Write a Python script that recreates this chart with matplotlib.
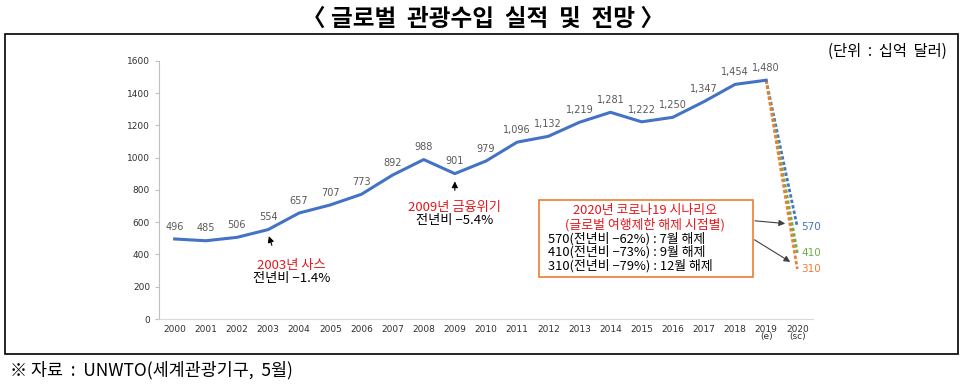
import matplotlib.pyplot as plt
from matplotlib.patches import Rectangle

plt.rcParams['font.family'] = ['Noto Sans CJK KR', 'DejaVu Sans']

years = ["2000", "2001", "2002", "2003", "2004", "2005", "2006", "2007", "2008", "2009",
         "2010", "2011", "2012", "2013", "2014", "2015", "2016", "2017", "2018", "2019\n(e)", "2020\n(sc)"]
receipts = [496, 485, 506, 554, 657, 707, 773, 892, 988, 901,
            979, 1096, 1132, 1219, 1281, 1222, 1250, 1347, 1454, 1480]
scenarios = [570, 410, 310]
scenario_colors = ["#4472C4", "#70AD47", "#ED7D31"]
scenario_lines = ["570(전년비 −62%) : 7월 해제",
                  "410(전년비 −73%) : 9월 해제",
                  "310(전년비 −79%) : 12월 해제"]

fig = plt.figure(figsize=(9.7, 3.85), dpi=100)
ax = fig.add_axes([0.164, 0.1714, 0.674, 0.6706])

x = list(range(len(receipts)))
ax.plot(x, receipts, color="#4472C4", linewidth=2.2, zorder=3)
last = len(receipts) - 1
for val, col in zip(scenarios, scenario_colors):
    ax.plot([last, last + 1], [receipts[-1], val], color=col, linewidth=2,
            linestyle=(0, (1.2, 0.8)), zorder=2)
    ax.text(last + 1.12, val, str(val), color=col, fontsize=7.5,
            va="center", ha="left", family="DejaVu Sans")

for i, v in enumerate(receipts):
    ax.text(i, v + 45, f"{v:,}", ha="center", va="bottom", fontsize=7,
            color="#595959", family="DejaVu Sans")

ax.set_xlim(-0.5, 20.5)
ax.set_ylim(0, 1600)
ax.set_yticks(range(0, 1601, 200))
ax.set_xticks(range(len(years)))
ax.set_xticklabels(years, fontsize=6.5, color="#303030", family="DejaVu Sans", linespacing=0.8)
ax.tick_params(axis="y", labelsize=6.5, labelcolor="#303030", length=3, color="#BFBFBF")
ax.tick_params(axis="x", length=0, pad=4)
for lbl in ax.get_yticklabels():
    lbl.set_family("DejaVu Sans")
for s in ["top", "right"]:
    ax.spines[s].set_visible(False)
ax.spines["left"].set_color("#BFBFBF")
ax.spines["bottom"].set_color("#D9D9D9")

# SARS annotation
ax.annotate("", xy=(3.0, 530), xytext=(3.15, 440),
            arrowprops=dict(arrowstyle="-|>", color="black", lw=0.8, mutation_scale=9))
ax.text(3.75, 330, "2003년 사스", color="#E8161B", fontsize=9.5, ha="center", va="center")
ax.text(3.75, 248, "전년비 −1.4%", color="black", fontsize=9.5, ha="center", va="center")

# financial crisis annotation
ax.annotate("", xy=(9, 870), xytext=(9, 780),
            arrowprops=dict(arrowstyle="-|>", color="black", lw=0.8, mutation_scale=9))
ax.text(9, 690, "2009년 금융위기", color="#E8161B", fontsize=9.5, ha="center", va="center")
ax.text(9, 610, "전년비 −5.4%", color="black", fontsize=9.5, ha="center", va="center")

# scenario box (figure pixel coords -> fraction)
W, H = 970, 385
box = Rectangle((539 / W, 1 - 277 / H), (753 - 539) / W, (277 - 200) / H,
                transform=fig.transFigure, fill=False, edgecolor="#ED7D31", lw=1.2)
fig.add_artist(box)
fig.text(645 / W, 1 - 211 / H, "2020년 코로나19 시나리오", color="#E8161B", fontsize=9.3,
         ha="center", va="center")
fig.text(645 / W, 1 - 224.5 / H, "(글로벌 여행제한 해제 시점별)", color="#E8161B", fontsize=9.3,
         ha="center", va="center")
for k, line in enumerate(scenario_lines):
    fig.text(548 / W, 1 - (238.5 + 13.5 * k) / H, line, color="black", fontsize=9.3,
             ha="left", va="center")
ax.annotate("", xy=(19.7, 590), xytext=(18.55, 610),
            arrowprops=dict(arrowstyle="-|>", color="#404040", lw=0.8, mutation_scale=9))
ax.annotate("", xy=(19.85, 345), xytext=(18.55, 500),
            arrowprops=dict(arrowstyle="-|>", color="#404040", lw=0.8, mutation_scale=9))

# frame, title, unit, source
frame = Rectangle((5 / W, 1 - 354 / H), (958 - 5) / W, (354 - 34) / H,
                  transform=fig.transFigure, fill=False, edgecolor="black", lw=1.2)
fig.add_artist(frame)
fig.text(483 / W, 1 - 19 / H, "〈 글로벌  관광수입  실적  및  전망 〉", fontsize=17, fontweight="bold",
         ha="center", va="center")
fig.text(947 / W, 1 - 51 / H, "(단위  :  십억  달러)", fontsize=11, ha="right", va="center")
fig.text(10 / W, 1 - 370 / H, "※ 자료  :  UNWTO(세계관광기구,  5월)", fontsize=12.5,
         ha="left", va="center")

fig.savefig("out.png", dpi=100)
